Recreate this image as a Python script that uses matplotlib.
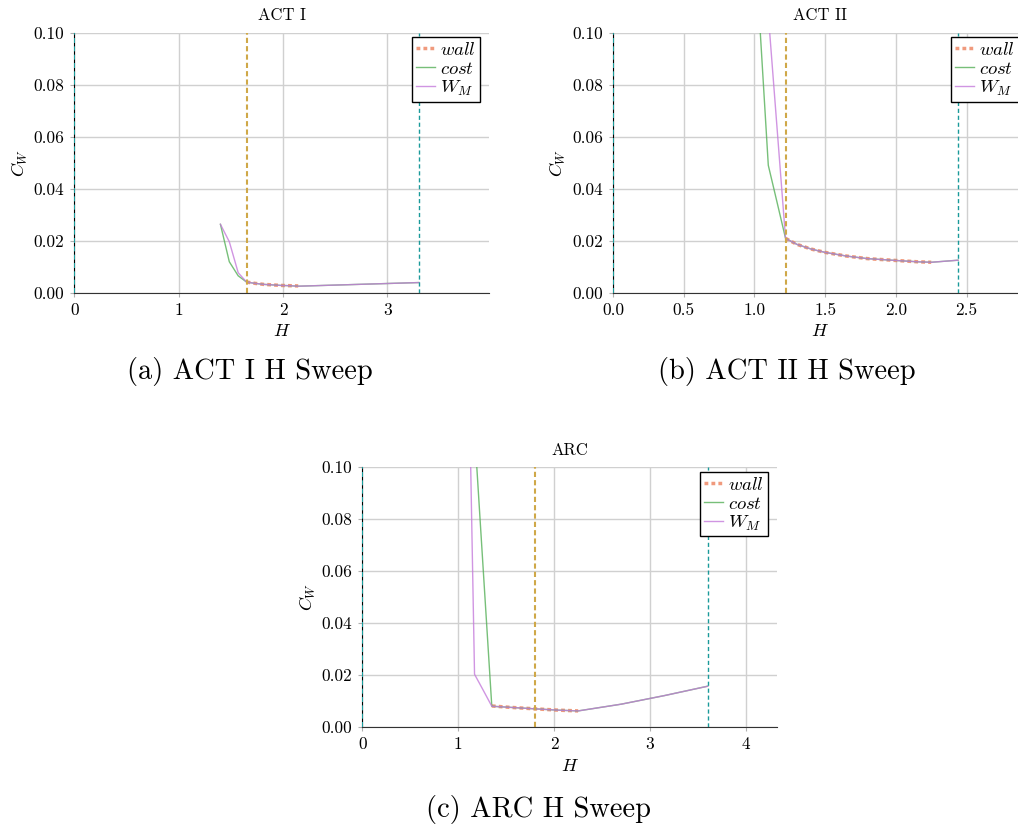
import numpy as np
import matplotlib.pyplot as plt
from matplotlib.ticker import FormatStrFormatter, MultipleLocator

plt.rcParams['font.family'] = 'cmr10'
plt.rcParams['mathtext.fontset'] = 'cm'
plt.rcParams['axes.formatter.use_mathtext'] = True

# ACT I
h0_a = 1.65
wall_h_a = [1.65, 1.73, 1.815, 1.90, 1.98, 2.06, 2.145]
wall_c_a = [0.0041, 0.0036, 0.0032, 0.0030, 0.0028, 0.0027, 0.0026]
cost_h_a = [1.40, 1.485, 1.57, 1.65, 1.73, 1.815, 1.90, 1.98, 2.06, 2.145, 3.30]
cost_c_a = [0.0263, 0.0119, 0.0065, 0.0041, 0.0036, 0.0032, 0.0030, 0.0028, 0.0027, 0.0025, 0.0039]
wm_c_a = [0.0263, 0.0196, 0.0077, 0.0041, 0.0036, 0.0032, 0.0030, 0.0028, 0.0027, 0.0025, 0.0039]

# ACT II
h0_b = 1.22
wall_h_b = [1.22, 1.30, 1.40, 1.50, 1.65, 1.80, 2.00, 2.15, 2.25]
wall_c_b = [0.0209, 0.0186, 0.0168, 0.0155, 0.0141, 0.0131, 0.0124, 0.0119, 0.0117]
cost_h_b = [0.976, 1.037, 1.098, 1.159, 1.22, 1.30, 1.40, 1.50, 1.65, 1.80, 2.00, 2.15, 2.25, 2.44]
cost_c_b = [0.167, 0.104, 0.049, 0.035, 0.0209, 0.0186, 0.0168, 0.0155, 0.0141, 0.0131, 0.0124, 0.0119, 0.0117, 0.0125]
wm_c_b = [0.22, 0.16, 0.107, 0.064, 0.0209, 0.0186, 0.0168, 0.0155, 0.0141, 0.0131, 0.0124, 0.0119, 0.0117, 0.0125]

# ARC
h0_c = 1.80
wall_h_c = [1.35, 1.53, 1.80, 2.04, 2.25]
wall_c_c = [0.0082, 0.0077, 0.0071, 0.0066, 0.0063]
cost_h_c = [1.08, 1.17, 1.26, 1.35, 1.53, 1.80, 2.04, 2.25, 2.70, 3.15, 3.60]
cost_c_c = [0.17, 0.114, 0.061, 0.0081, 0.0077, 0.0071, 0.0066, 0.0063, 0.0089, 0.0122, 0.0158]
wm_c_c = [0.20, 0.0204, 0.0143, 0.0081, 0.0077, 0.0071, 0.0066, 0.0063, 0.0089, 0.0122, 0.0158]

panels = [
    ("ACT I", h0_a, wall_h_a, wall_c_a, cost_h_a, cost_c_a, wm_c_a, 3.97, 1.0, "%d", "(a) ACT I H Sweep"),
    ("ACT II", h0_b, wall_h_b, wall_c_b, cost_h_b, cost_c_b, wm_c_b, 2.93, 0.5, "%.1f", "(b) ACT II H Sweep"),
    ("ARC", h0_c, wall_h_c, wall_c_c, cost_h_c, cost_c_c, wm_c_c, 4.32, 1.0, "%d", "(c) ARC H Sweep"),
]

W, H = 1018, 826
fig = plt.figure(figsize=(W/100, H/100), dpi=100)
rects = [(74.3, 32.7), (613, 32.7), (362.3, 467.3)]
caps = [(250, 371), (787, 371), (538, 810)]

for (title, h0, wh, wc, ch, cc, mc, xmax, step, fmt, cap), (px, py), (cx, cy) in zip(panels, rects, caps):
    ax = fig.add_axes([px/W, 1 - (py+260)/H, 414.4/W, 260/H])
    ax.grid(True, color='#d0d0d0', lw=1)
    ax.set_axisbelow(True)
    ax.plot(wh, wc, ls=':', lw=2.5, dashes=(1.1, 0.9), color='#ee8866', alpha=0.85, label='$wall$')
    ax.plot(ch, cc, lw=1, color='#55b058', alpha=0.8, label='$cost$')
    ax.plot(ch, mc, lw=1, color='#c57bdb', alpha=0.8, label='$W_M$')
    ax.axvline(0, color='#20c0c0', ls='--', lw=1.2, dashes=(3, 2), zorder=3)
    ax.axvline(h0, color='#cfa848', ls='--', lw=1.5, dashes=(2.5, 1.5))
    ax.axvline(2*h0, color='#1a9a9a', ls='--', lw=1, dashes=(3, 2))
    ax.set_xlim(0, xmax)
    ax.set_ylim(0, 0.10)
    ax.xaxis.set_major_locator(MultipleLocator(step))
    ax.xaxis.set_major_formatter(FormatStrFormatter(fmt))
    ax.yaxis.set_major_locator(MultipleLocator(0.02))
    ax.yaxis.set_major_formatter(FormatStrFormatter('%.2f'))
    ax.tick_params(labelsize=12.5, direction='out', length=3, color='#b0b0b0', pad=4)
    for s in ['top', 'right']:
        ax.spines[s].set_visible(False)
    ax.spines['left'].set_color('black')
    ax.spines['bottom'].set_color('#333333')
    ax.set_title(title, fontsize=12, pad=9)
    ax.set_xlabel('$H$', fontsize=13, labelpad=4)
    ax.set_ylabel('$C_W$', fontsize=13, labelpad=3)
    ax.legend(loc='upper right', bbox_to_anchor=(1 - 4/414, 1), fontsize=13.5,
              frameon=True, fancybox=False, framealpha=1, edgecolor='black',
              handlelength=1.0, borderpad=0.2, labelspacing=0.05,
              handletextpad=0.3, borderaxespad=0.25)
    fig.text(cx/W, 1 - cy/H, cap, fontsize=20.5, ha='center', va='center')

fig.savefig('out.png', dpi=100)
